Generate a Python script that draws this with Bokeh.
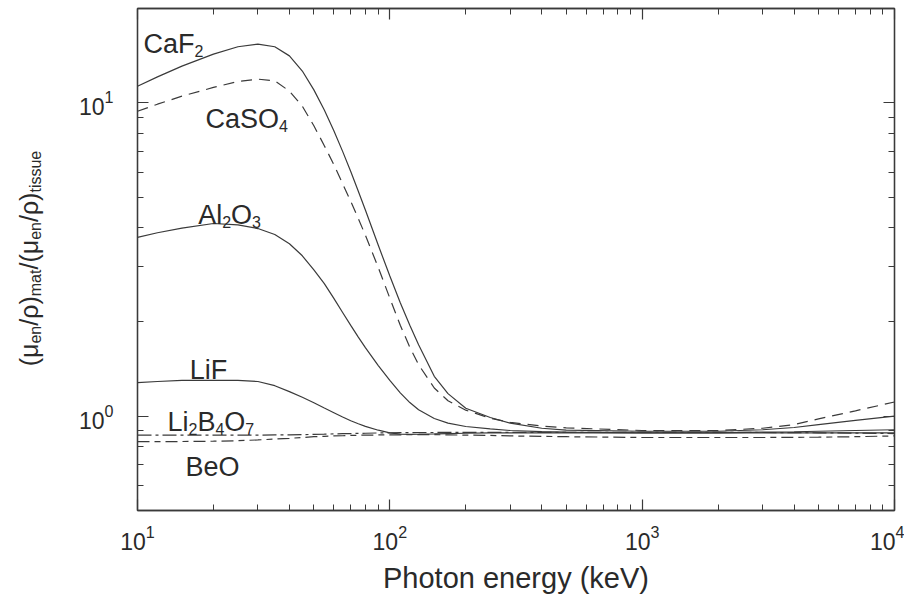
import math
from bokeh.plotting import figure
from bokeh.layouts import row
from bokeh.models import (ColumnDataSource, FixedTicker, LogAxis, LogTickFormatter,
                          CustomJSTickFormatter, Label)
from bokeh.core.properties import value
from bokeh.embed import file_html
from bokeh.resources import INLINE

# ---------------- data ----------------
energy = [10, 12, 15, 20, 25, 30, 35, 40, 45, 50, 55, 60, 65, 70, 75, 80, 90, 100,
          110, 120, 130, 150, 170, 200, 250, 300, 400, 500, 1000, 2000, 3000, 4000,
          5000, 7000, 10000]
caf2 = [11.3, 12.1, 13.1, 14.3, 15.1, 15.4, 15.1, 14.12, 12.63, 11.0, 9.49, 8.15, 7.0,
        6.04, 5.22, 4.55, 3.51, 2.80, 2.30, 1.95, 1.69, 1.34, 1.18, 1.06, 0.99, 0.95,
        0.915, 0.903, 0.895, 0.895, 0.905, 0.92, 0.94, 0.97, 1.0]
caso4 = [9.4, 9.9, 10.5, 11.2, 11.7, 11.9, 11.75, 10.9, 9.75, 8.45, 7.3, 6.35, 5.52,
         4.85, 4.27, 3.78, 2.98, 2.38, 1.95, 1.66, 1.46, 1.23, 1.12, 1.045, 0.985, 0.955,
         0.93, 0.918, 0.90, 0.90, 0.915, 0.94, 0.98, 1.04, 1.11]
al2o3 = [3.72, 3.85, 3.98, 4.12, 4.08, 3.97, 3.80, 3.55, 3.25, 2.93, 2.65, 2.377, 2.142,
         1.948, 1.788, 1.654, 1.45, 1.30, 1.187, 1.105, 1.048, 0.983, 0.95, 0.927, 0.911,
         0.90, 0.893, 0.89, 0.885, 0.885, 0.89, 0.892, 0.895, 0.90, 0.905]
lif = [1.28, 1.29, 1.30, 1.30, 1.30, 1.29, 1.251, 1.198, 1.149, 1.104, 1.062, 1.026,
       0.994, 0.967, 0.946, 0.928, 0.902, 0.885, 0.877, 0.875, 0.876, 0.878, 0.88, 0.882,
       0.884, 0.885, 0.885, 0.885, 0.885, 0.885, 0.885, 0.885, 0.885, 0.885, 0.885]
li2b4o7 = [0.87, 0.87, 0.87, 0.87, 0.87, 0.87, 0.871, 0.872, 0.873, 0.875, 0.876, 0.878,
           0.879, 0.88, 0.881, 0.882, 0.884, 0.885, 0.886, 0.886, 0.887, 0.887, 0.888,
           0.888, 0.888, 0.888, 0.888, 0.888, 0.888, 0.888, 0.887, 0.886, 0.885, 0.883, 0.88]
beo = [0.83, 0.83, 0.83, 0.832, 0.835, 0.84, 0.845, 0.85, 0.855, 0.86, 0.862, 0.865,
       0.866, 0.868, 0.869, 0.87, 0.871, 0.872, 0.872, 0.873, 0.873, 0.873, 0.872, 0.87,
       0.868, 0.865, 0.862, 0.86, 0.855, 0.855, 0.855, 0.856, 0.857, 0.86, 0.865]

x_major = [10, 100, 1000, 10000]
x_minor = [20, 30, 40, 50, 60, 70, 80, 90, 200, 300, 400, 500, 600, 700, 800, 900,
           2000, 3000, 4000, 5000, 6000, 7000, 8000, 9000]
y_major = [1, 10]
y_minor = [0.5, 0.6, 0.7, 0.8, 0.9, 2, 3, 4, 5, 6, 7, 8, 9, 20]

x_label = "Photon energy (keV)"
# curve labels: pieces (text, is_subscript), anchor energy, anchor value
curve_labels = [
    ([("CaF", False), ("2", True)], 10.56, 15.4),
    ([("CaSO", False), ("4", True)], 18.6, 8.89),
    ([("Al", False), ("2", True), ("O", False), ("3", True)], 17.4, 4.37),
    ([("LiF", False)], 16.1, 1.40),
    ([("Li", False), ("2", True), ("B", False), ("4", True), ("O", False), ("7", True)], 13.15, 0.957),
    ([("BeO", False)], 15.5, 0.688),
]
y_label_pieces = [("(\u03bc", False), ("en", True), ("/\u03c1)", False), ("mat", True),
                  ("/(\u03bc", False), ("en", True), ("/\u03c1)", False), ("tissue", True)]

# ---------------- styling ----------------
FONT = "Liberation Sans"
INK = "#3a3a3a"
TXT = "#2a2a2a"
MAIN = 27
SUB = 16
YMAIN = 25
YSUB = 16
H = 600
LW = 60          # width of the y-label strip
PW = 844         # width of the plot figure
FRAME_H = 502    # plot frame height (the strip's frame is aligned to it)

# Arial / Liberation Sans advance widths (per 1000 em)
ADV = {'(': 333, ')': 333, '/': 278, '\u03bc': 576, '\u03c1': 570, 'e': 556, 'n': 556,
       'm': 833, 'a': 556, 't': 278, 'i': 222, 's': 500, 'u': 556, 'C': 722, 'F': 611,
       'S': 667, 'O': 778, 'A': 667, 'l': 222, 'L': 556, 'B': 667, 'E': 667}
for d in "0123456789":
    ADV[d] = 556


def text_width(s, size):
    return sum(ADV.get(c, 556) for c in s) * size / 1000.0


src = ColumnDataSource(dict(energy=energy, caf2=caf2, caso4=caso4, al2o3=al2o3,
                            lif=lif, li2b4o7=li2b4o7, beo=beo))

p = figure(width=PW, height=H, x_axis_type="log", y_axis_type="log",
           x_range=(10, 10000), y_range=(0.5, 20),
           output_backend="svg", toolbar_location=None,
           min_border_left=137 - LW, min_border_right=10, min_border_top=8,
           min_border_bottom=H - 8 - FRAME_H)
p.grid.visible = False
p.outline_line_color = INK
p.outline_line_width = 1.3


def style_axis(ax, ticks, minor):
    ax.ticker = FixedTicker(ticks=ticks, minor_ticks=minor)
    ax.major_tick_in = 11
    ax.major_tick_out = 0
    ax.minor_tick_in = 6
    ax.minor_tick_out = 0
    ax.axis_line_color = INK
    ax.axis_line_width = 1.3
    ax.major_tick_line_color = INK
    ax.major_tick_line_width = 1.2
    ax.minor_tick_line_color = INK
    ax.minor_tick_line_width = 1.0
    ax.major_label_text_font = FONT
    ax.major_label_text_font_size = "23px"
    ax.major_label_text_color = TXT


xa = p.xaxis[0]
style_axis(xa, x_major, x_minor)
xa.formatter = LogTickFormatter()
xa.major_label_standoff = 14
xa.axis_label = x_label
xa.axis_label_text_font = FONT
xa.axis_label_text_font_size = "29px"
xa.axis_label_text_font_style = "normal"
xa.axis_label_text_color = TXT
xa.axis_label_standoff = 9

ya = p.yaxis[0]
style_axis(ya, y_major, y_minor)
ya.formatter = LogTickFormatter()
ya.major_label_standoff = 24

empty = CustomJSTickFormatter(code="return ''")
top = LogAxis()
style_axis(top, x_major, x_minor)
top.formatter = empty
top.major_label_standoff = 0
p.add_layout(top, "above")
right = LogAxis()
style_axis(right, y_major, y_minor)
right.formatter = empty
right.major_label_standoff = 0
p.add_layout(right, "right")

# ---------------- curves ----------------
p.line("energy", "caf2", source=src, line_color=INK, line_width=1.2)
p.line("energy", "caso4", source=src, line_color=INK, line_width=1.2, line_dash="11 7")
p.line("energy", "al2o3", source=src, line_color=INK, line_width=1.2)
p.line("energy", "lif", source=src, line_color=INK, line_width=1.2)
p.line("energy", "li2b4o7", source=src, line_color=INK, line_width=1.2, line_dash="14 4 3 4")
p.line("energy", "beo", source=src, line_color=INK, line_width=1.2, line_dash="12 5 6 5")

# ---------------- curve labels with subscripts ----------------
for pieces, ex, vy in curve_labels:
    off = 0.0
    for txt, is_sub in pieces:
        size = SUB if is_sub else MAIN
        p.add_layout(Label(x=ex, y=vy, x_offset=off, y_offset=-7 if is_sub else 0,
                           text=txt, text_font=FONT, text_font_size=f"{size}px",
                           text_color=TXT, text_align="left",
                           text_baseline="alphabetic"))
        off += text_width(txt, size)

# ---------------- y-axis label strip (rotated, with subscripts) ----------------
ylab = figure(width=LW, height=H, x_range=(0, LW), y_range=(0, FRAME_H),
              output_backend="svg", toolbar_location=None,
              x_axis_location=None, y_axis_location=None,
              min_border_left=0, min_border_right=0, min_border_top=8,
              min_border_bottom=H - 8 - FRAME_H)
ylab.grid.visible = False
ylab.outline_line_color = None

center_y = FRAME_H / 2.0 + 1
total = sum(text_width(t, YSUB if s else YMAIN) for t, s in y_label_pieces)
pos = center_y - total / 2.0
mx, my, mt, sx, sy, st = [], [], [], [], [], []
for txt, is_sub in y_label_pieces:
    size = YSUB if is_sub else YMAIN
    if is_sub:
        sx.append(35); sy.append(pos); st.append(txt)
    else:
        mx.append(28); my.append(pos); mt.append(txt)
    pos += text_width(txt, size)

ylab.text(x=mx, y=my, text=mt, angle=math.pi / 2, text_font=value(FONT),
          text_font_size=f"{YMAIN}px", text_color=TXT, text_align="left",
          text_baseline="alphabetic")
ylab.text(x=sx, y=sy, text=st, angle=math.pi / 2, text_font=value(FONT),
          text_font_size=f"{YSUB}px", text_color=TXT, text_align="left",
          text_baseline="alphabetic")

layout = row(ylab, p)
open("out.html", "w").write(file_html(layout, INLINE))
